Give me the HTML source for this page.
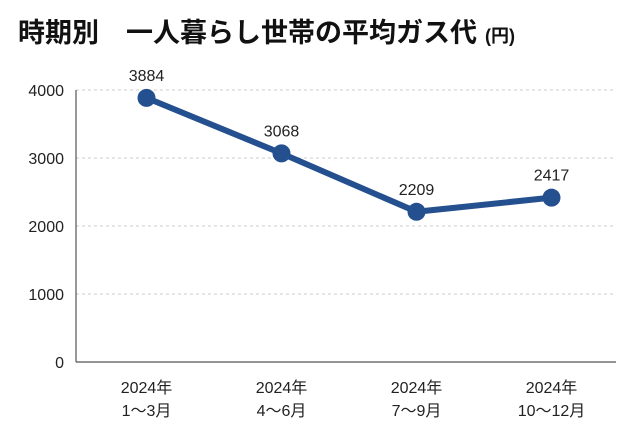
<!DOCTYPE html>
<html><head><meta charset="utf-8"><style>
body{margin:0;background:#fff;}
svg{display:block;font-family:"Liberation Sans","Noto Sans CJK JP",sans-serif;}
</style></head><body>
<svg id="c" width="640" height="440">
<text x="18" y="42" font-size="27" font-weight="bold" fill="#111">時期別　一人暮らし世帯の平均ガス代<tspan font-size="18" dx="8">(円)</tspan></text>
<g id="grid"></g><g id="marks"></g>
</svg>
<script>
const categories1=["2024年","2024年","2024年","2024年"];
const categories2=["1～3月","4～6月","7～9月","10～12月"];
const values=[3884,3068,2209,2417];
const ticks=[0,1000,2000,3000,4000];
const NS="http://www.w3.org/2000/svg";
const x0=76,x1=616,y0=362,yTop=90,maxV=4000;
const y=v=>y0-(v/maxV)*(y0-yTop);
const x=i=>x0+3+(i+0.5)*(x1-x0)/categories1.length;
function mk(t,a,p){const e=document.createElementNS(NS,t);for(const k in a)e.setAttribute(k,a[k]);p.appendChild(e);return e;}
const g=document.getElementById('grid'),m=document.getElementById('marks');
ticks.forEach(t=>{
 if(t>0){const l=mk('line',{x1:x0,x2:x1,y1:y(t),y2:y(t),stroke:'#ccc','stroke-dasharray':'3,3'},g);
 
 }
 const tx=mk('text',{x:64,y:y(t)+6,'text-anchor':'end','font-size':16,fill:'#222'},g);tx.textContent=t;
 
 
});
const ax=mk('line',{x1:x0,x2:x0,y1:yTop,y2:y0,stroke:'#555','stroke-width':1.2},g);


const bx=mk('line',{x1:x0,x2:x1,y1:y0,y2:y0,stroke:'#555','stroke-width':1.2},g);


categories1.forEach((c,i)=>{
 const t=mk('text',{x:x(i),y:393,'text-anchor':'middle','font-size':16,fill:'#222'},g);t.textContent=c;
 
 
 const t2=mk('text',{x:x(i),y:416,'text-anchor':'middle','font-size':16,fill:'#222'},g);t2.textContent=categories2[i];
 
 
});
const pl=mk('polyline',{points:values.map((v,i)=>x(i)+','+y(v)).join(' '),fill:'none',stroke:'#24508f','stroke-width':6,'stroke-linejoin':'round'},m);


values.forEach((v,i)=>{
 const c=mk('circle',{cx:x(i),cy:y(v),r:9,fill:'#24508f'},m);
 
 
 const t=mk('text',{x:x(i),y:y(v)-17,'text-anchor':'middle','font-size':16,fill:'#222'},m);t.textContent=v;
 
 
});
</script>
</body></html>
